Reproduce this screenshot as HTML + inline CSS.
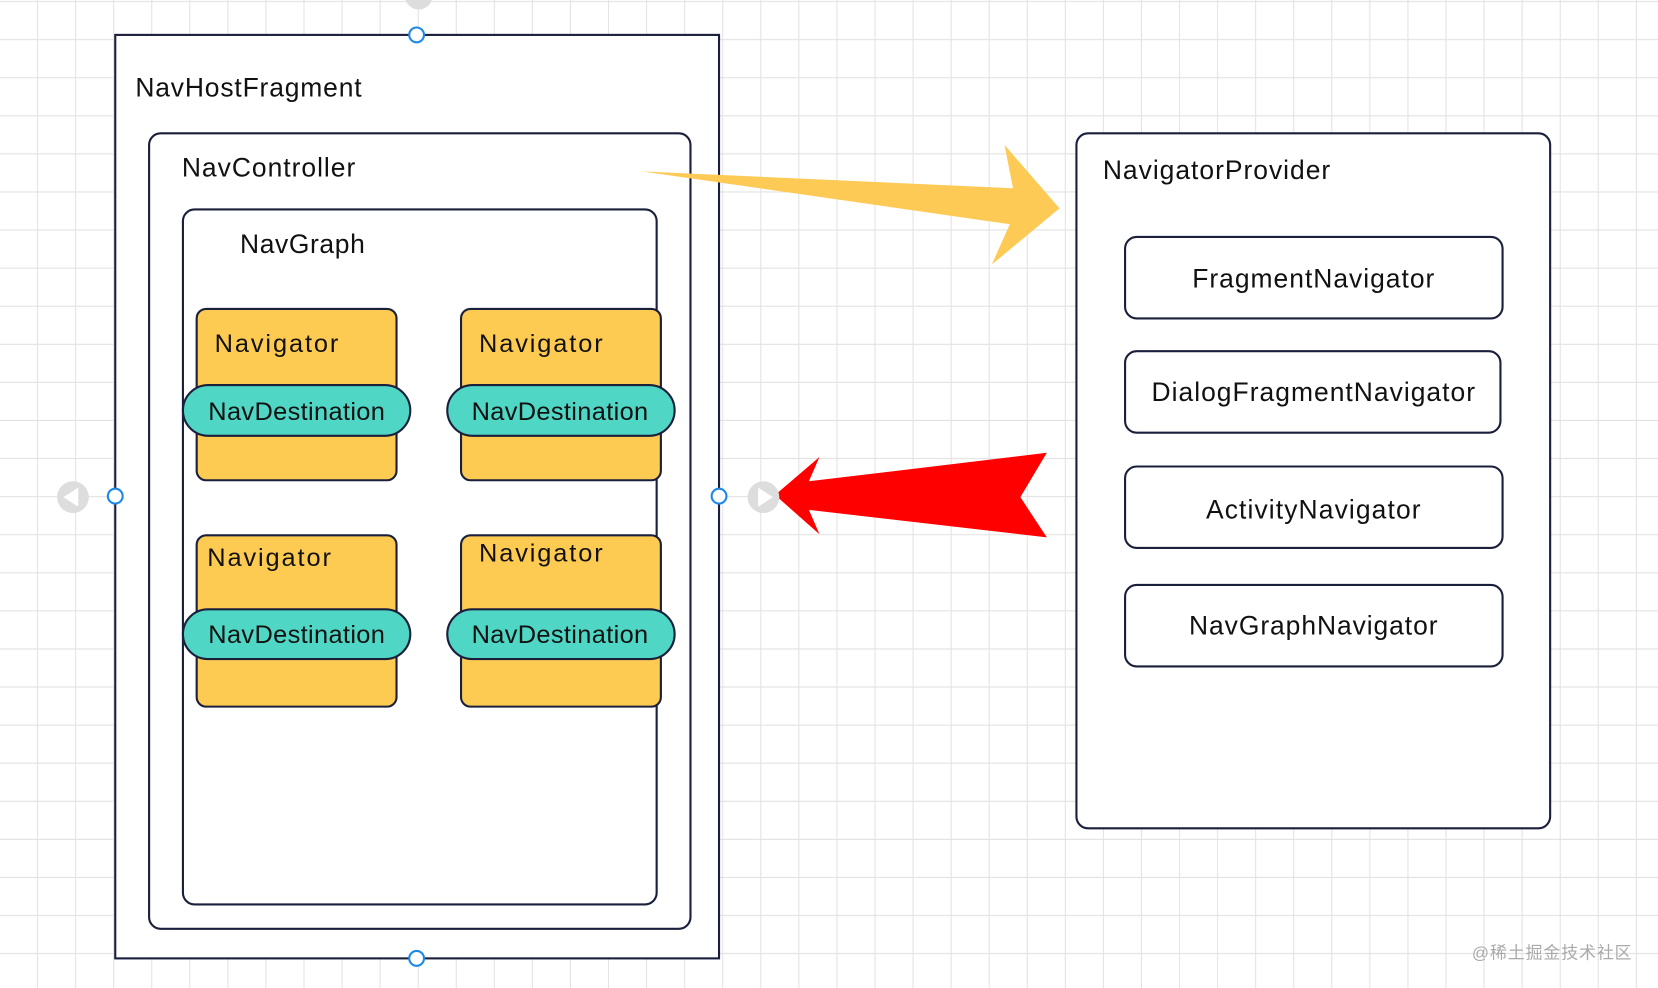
<!DOCTYPE html>
<html><head><meta charset="utf-8"><style>
html,body{margin:0;padding:0;background:#fff;}
svg{display:block;}
text{font-family:"Liberation Sans","Noto Sans CJK SC",sans-serif;fill:#111;}
</style></head><body>
<svg width="1658" height="988" viewBox="0 0 1568 934" preserveAspectRatio="none" xmlns="http://www.w3.org/2000/svg">
<defs>
<pattern id="g" x="0" y="2" width="36" height="36" patternUnits="userSpaceOnUse">
<path d="M36 0V36M0 36H36" stroke="#e2e2e2" stroke-width="2" fill="none"/>
</pattern>
</defs>
<rect width="1568" height="934" fill="#fff"/>
<rect width="1568" height="934" fill="url(#g)"/>
<circle cx="396" cy="-4" r="13" fill="#ddd"/>
<rect x="109" y="33" width="571" height="873" fill="#fff" stroke="#1a1f3c" stroke-width="2"/>
<text x="128" y="91" font-size="25" textLength="214">NavHostFragment</text>
<rect x="141" y="126" width="512" height="752" rx="11" fill="#fff" stroke="#1a1f3c" stroke-width="2"/>
<text x="172" y="167" font-size="25" textLength="164">NavController</text>
<rect x="173" y="198" width="448" height="657" rx="11" fill="#fff" stroke="#1a1f3c" stroke-width="2"/>
<text x="227" y="239" font-size="25" textLength="118">NavGraph</text>
<g stroke="#1a1f3c" stroke-width="2">
<rect x="186" y="292" width="189" height="162" rx="9" fill="#fecb52"/>
<rect x="436" y="292" width="189" height="162" rx="9" fill="#fecb52"/>
<rect x="186" y="506" width="189" height="162" rx="9" fill="#fecb52"/>
<rect x="436" y="506" width="189" height="162" rx="9" fill="#fecb52"/>
<rect x="173" y="364" width="215" height="48" rx="24" fill="#4fd6c4"/>
<rect x="423" y="364" width="215" height="48" rx="24" fill="#4fd6c4"/>
<rect x="173" y="576" width="215" height="47" rx="23.5" fill="#4fd6c4"/>
<rect x="423" y="576" width="215" height="47" rx="23.5" fill="#4fd6c4"/>
</g>
<g font-size="24">
<text x="203" y="333" textLength="117">Navigator</text>
<text x="453" y="333" textLength="117">Navigator</text>
<text x="196" y="535" textLength="117">Navigator</text>
<text x="453" y="531" textLength="117">Navigator</text>
<text x="197" y="397" textLength="167">NavDestination</text>
<text x="446" y="397" textLength="167">NavDestination</text>
<text x="197" y="608" textLength="167">NavDestination</text>
<text x="446" y="608" textLength="167">NavDestination</text>
</g>
<rect x="1018" y="126" width="448" height="657" rx="11" fill="#fff" stroke="#1a1f3c" stroke-width="2"/>
<text x="1043" y="169" font-size="25" textLength="215">NavigatorProvider</text>
<g stroke="#1a1f3c" stroke-width="2" fill="#fff">
<rect x="1064" y="224" width="357" height="77" rx="11"/>
<rect x="1064" y="332" width="355" height="77" rx="11"/>
<rect x="1064" y="441" width="357" height="77" rx="11"/>
<rect x="1064" y="553" width="357" height="77" rx="11"/>
</g>
<g font-size="25" text-anchor="middle">
<text x="1242" y="272" textLength="229">FragmentNavigator</text>
<text x="1242" y="379" textLength="306">DialogFragmentNavigator</text>
<text x="1242" y="490" textLength="203">ActivityNavigator</text>
<text x="1242" y="600" textLength="235">NavGraphNavigator</text>
</g>
<polygon points="607,162 958,178 950,137 1002,197 938,250 955,212" fill="#fdca55"/>
<polygon points="733,468 775,432 765,455 990,428 965,470 990,508 765,482 775,505" fill="#ff0000"/>
<g fill="#fff" stroke="#1e88e5" stroke-width="2">
<circle cx="394" cy="33" r="7"/>
<circle cx="394" cy="906" r="7"/>
<circle cx="109" cy="469" r="7"/>
<circle cx="680" cy="469" r="7"/>
</g>
<circle cx="69" cy="470" r="15" fill="#ddd"/>
<polygon points="60,470 74,461 74,479" fill="#fff"/>
<circle cx="722" cy="470" r="15" fill="#ddd"/>
<polygon points="731,470 717,461 717,479" fill="#fff"/>
<text x="1392" y="906" font-size="16" fill="#aaa" style="fill:#aaa" textLength="151">@稀土掘金技术社区</text>
</svg>
</body></html>
